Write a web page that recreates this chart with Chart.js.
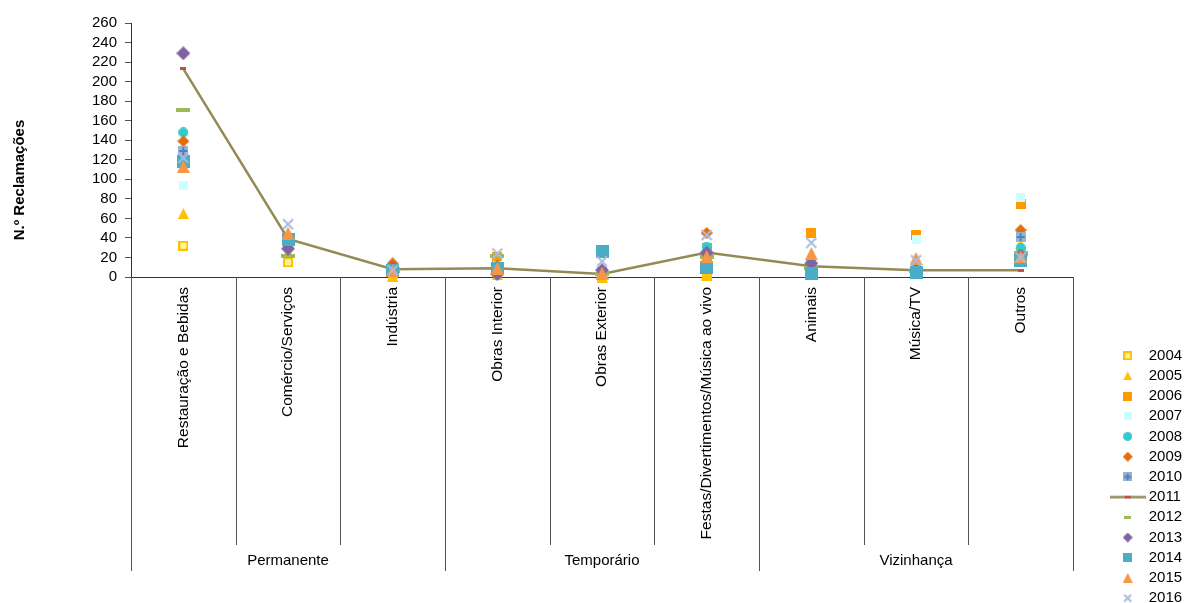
<!DOCTYPE html>
<html>
<head>
<meta charset="utf-8">
<script src="https://cdn.jsdelivr.net/npm/chart.js@4.4.1/dist/chart.umd.min.js"></script>
<style>
  html, body { margin: 0; padding: 0; background: #fff; }
  #wrap { width: 1184px; height: 603px; }
</style>
</head>
<body>
<div id="wrap"><canvas id="chart"></canvas></div>
<script>
const categories = ['Restauração e Bebidas', 'Comércio/Serviços', 'Indústria', 'Obras Interior', 'Obras Exterior',
  'Festas/Divertimentos/Música ao vivo', 'Animais', 'Música/TV', 'Outros'];
const groups = ['Permanente', 'Temporário', 'Vizinhança'];
const groupSpans = [[0, 2], [3, 5], [6, 8]];
const years = ['2004', '2005', '2006', '2007', '2008', '2009', '2010', '2011', '2012', '2013', '2014', '2015', '2016'];
const yTitle = 'N.º Reclamações';
const yTicks = { min: 0, max: 260, step: 20 };

// values per year, in category order
const v2004 = [32, 15, 3, 5, 1, 1, 5, 5, 25];
const v2005 = [65, 25, 1, 3, 0, 2, 8, 6, 34];
const v2006 = [125, 35, 5, 20, 3, 30, 45, 43, 75];
const v2007 = [94, 35, 6, 12, 2, 28, 10, 38, 81];
const v2008 = [148, 37, 9, 10, 3, 31, 12, 10, 30];
const v2009 = [139, 33, 14, 12, 4, 45, 10, 8, 48];
const v2010 = [129, 38, 8, 10, 5, 22, 13, 9, 41];
const v2011 = [213, 39, 8, 9, 3, 25, 11, 7, 7];
const v2012 = [171, 22, 6, 22, 3, 20, 9, 6, 25];
const v2013 = [229, 29, 9, 3, 7, 25, 14, 7, 22];
const v2014 = [118, 38, 7, 9, 26, 10, 4, 5, 17];
const v2015 = [113, 45, 7, 9, 4, 21, 24, 19, 21];
const v2016 = [122, 54, 7, 24, 16, 43, 35, 17, 20];
const values = [v2004, v2005, v2006, v2007, v2008, v2009, v2010, v2011, v2012, v2013, v2014, v2015, v2016];

// marker look per year: kind, plot size, legend size, fill, stroke
const looks = [
  ['hollow', 10, 9, '#FFF59A', '#FFC000'],
  ['triangle', 11, 9, '#FFC000', '#FFC000'],
  ['square', 10, 9, '#FF9900', '#FF9900'],
  ['square', 9, 8, '#CCFFFF', '#CCFFFF'],
  ['circle', 10, 9, '#33CCCC', '#33CCCC'],
  ['diamond', 12, 10, '#E46C0A', '#E46C0A'],
  ['plus', 10, 9, '#95B3D7', '#4F81BD'],
  ['tick', 6, 6, '#C0504D', '#948A54'],
  ['dash', 14, 7, '#9BBB59', '#9BBB59'],
  ['diamond', 14, 10, '#8064A2', '#8064A2'],
  ['square', 13, 9, '#4BACC6', '#4BACC6'],
  ['triangle', 13, 10, '#F79646', '#F79646'],
  ['cross', 12, 9, '#A9BCDD', '#A9BCDD']
];

function marker(kind, s, fill, stroke, legend) {
  const c = document.createElement('canvas');
  let w = s, h = s;
  if (kind === 'dash') h = legend ? 3 : 4;
  if (kind === 'tick') h = 3;
  if (kind === 'tick' && legend) { w = 36; h = 5; }
  c.width = w; c.height = h;
  const g = c.getContext('2d');
  g.fillStyle = fill;
  g.strokeStyle = stroke;
  g.beginPath();
  if (kind === 'hollow') {
    g.fillRect(0, 0, w, h);
    g.lineWidth = 2;
    g.strokeRect(1, 1, w - 2, h - 2);
  } else if (kind === 'square' || kind === 'dash') {
    g.fillRect(0, 0, w, h);
  } else if (kind === 'triangle') {
    g.moveTo(w / 2, 0); g.lineTo(w, h); g.lineTo(0, h); g.closePath(); g.fill();
  } else if (kind === 'circle') {
    g.arc(w / 2, h / 2, w / 2, 0, Math.PI * 2); g.fill();
  } else if (kind === 'diamond') {
    g.moveTo(w / 2, 0); g.lineTo(w, h / 2); g.lineTo(w / 2, h); g.lineTo(0, h / 2); g.closePath(); g.fill();
  } else if (kind === 'plus') {
    g.fillRect(0, 0, w, h);
    g.lineWidth = 2;
    g.moveTo(w / 2, 1); g.lineTo(w / 2, h - 1);
    g.moveTo(1, h / 2); g.lineTo(w - 1, h / 2);
    g.stroke();
  } else if (kind === 'cross') {
    g.lineWidth = 2;
    g.moveTo(1, 1); g.lineTo(w - 1, h - 1);
    g.moveTo(w - 1, 1); g.lineTo(1, h - 1);
    g.stroke();
  } else if (kind === 'tick') {
    if (legend) {
      g.lineWidth = 2.5;
      g.moveTo(0, h / 2); g.lineTo(w, h / 2); g.stroke();
      g.fillRect(w / 2 - 3, h / 2 - 1.5, 6, 3);
    } else {
      g.fillRect(0, 0, w, h);
    }
  }
  return c;
}

const plotMarks = looks.map(l => marker(l[0], l[1], l[3], l[4], false));
const legendMarks = looks.map(l => marker(l[0], l[2], l[3], l[4], true));

const font = 'Liberation Sans, Arial, sans-serif';

const decor = {
  id: 'decor',
  beforeLayout(chart) {
    const lg = chart.legend;
    if (lg && !lg.patched) {
      const fit = lg.fit;
      lg.fit = function () { fit.call(this); this.width = 111; };
      lg.patched = true;
    }
  },
  afterLayout(chart) {
    const lg = chart.legend;
    lg.left = 1109; lg.right = 1184;
    lg.top = 343; lg.bottom = 800;
  },
  afterDraw(chart) {
    const ctx = chart.ctx;
    const x = chart.scales.x;
    const area = chart.chartArea;
    const half = (x.getPixelForValue(1) - x.getPixelForValue(0)) / 2;
    const low = x.bottom;
    ctx.save();
    ctx.strokeStyle = '#555';
    ctx.lineWidth = 1;
    const starts = groupSpans.map(g => g[0]);
    for (let i = 0; i <= categories.length; i++) {
      const px = Math.round(x.getPixelForValue(i) - half) + 0.5;
      const edge = starts.includes(i) || i === categories.length;
      ctx.beginPath();
      ctx.moveTo(px, area.bottom);
      ctx.lineTo(px, edge ? low + 26 : low);
      ctx.stroke();
    }
    ctx.fillStyle = '#000';
    ctx.font = '15px ' + font;
    ctx.textAlign = 'center';
    ctx.textBaseline = 'middle';
    groups.forEach((name, k) => {
      const a = x.getPixelForValue(groupSpans[k][0]);
      const b = x.getPixelForValue(groupSpans[k][1]);
      ctx.fillText(name, (a + b) / 2, low + 16);
    });
    ctx.translate(20, 180);
    ctx.rotate(-Math.PI / 2);
    ctx.font = 'bold 15px ' + font;
    ctx.fillText(yTitle, 0, 0);
    ctx.restore();
  }
};

new Chart(document.getElementById('chart'), {
  type: 'line',
  data: {
    labels: categories,
    datasets: years.map((yr, i) => ({
      label: yr,
      data: values[i],
      showLine: i === 7,
      borderColor: '#948A54',
      borderWidth: 2.5,
      backgroundColor: looks[i][3],
      pointStyle: plotMarks[i],
      pointRadius: 6,
      pointHoverRadius: 6,
      tension: 0,
      fill: false,
      clip: false,
      order: years.length - i
    }))
  },
  options: {
    responsive: true,
    maintainAspectRatio: false,
    animation: false,
    layout: { padding: { left: 84, top: 23, bottom: 58, right: 0 } },
    plugins: {
      tooltip: { enabled: false },
      legend: {
        position: 'right',
        align: 'start',
        labels: {
          usePointStyle: true,
          pointStyleWidth: 27,
          boxHeight: 9,
          padding: 5.2,
          color: '#000',
          font: { family: font, size: 15 },
          generateLabels: chart => chart.data.datasets.map((ds, i) => ({
            text: ds.label,
            pointStyle: legendMarks[i],
            fillStyle: looks[i][3],
            strokeStyle: looks[i][4],
            lineWidth: 0,
            hidden: false,
            datasetIndex: i,
            fontColor: '#000'
          }))
        }
      }
    },
    scales: {
      x: {
        offset: true,
        grid: { display: false },
        border: { display: true, color: '#333', width: 1 },
        afterFit: scale => { scale.height = 268; },
        ticks: {
          autoSkip: false,
          minRotation: 90,
          maxRotation: 90,
          padding: 2,
          color: '#000',
          font: { family: font, size: 15.5 }
        }
      },
      y: {
        min: yTicks.min,
        max: yTicks.max,
        grid: { display: true, drawOnChartArea: false, tickLength: 6, color: '#555' },
        border: { display: true, color: '#333', width: 1 },
        ticks: {
          stepSize: yTicks.step,
          autoSkip: false,
          padding: 8,
          color: '#000',
          font: { family: font, size: 15 }
        }
      }
    }
  },
  plugins: [decor]
});
</script>
</body>
</html>
